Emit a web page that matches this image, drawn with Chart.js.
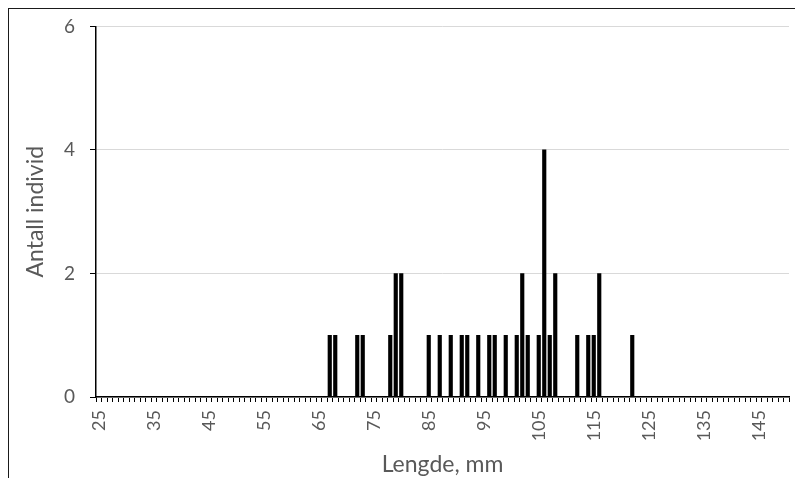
<!DOCTYPE html>
<html>
<head>
<meta charset="utf-8">
<script src="https://cdn.jsdelivr.net/npm/chart.js@4.4.0/dist/chart.umd.min.js"></script>
<style>
  html, body { margin: 0; padding: 0; background: #fff; overflow: hidden; }
  #wrap { position: relative; width: 795px; height: 478px; }
  #frame { position: absolute; left: 8px; top: 8px; width: 800px; height: 480px; border: 1.5px solid #1a1a1a; pointer-events: none; }
</style>
</head>
<body>
<div id="wrap">
  <canvas id="lengthChart" width="795" height="478"></canvas>
  <div id="frame"></div>
</div>
<script>
// Lengder (mm) på kategoriaksen
const firstLength = 25;
const lastLength = 150;

// Lengder med individer og antall per lengde
const barLengths = [67, 68, 72, 73, 78, 79, 80, 85, 87, 89, 91, 92, 94, 96, 97, 99, 101, 102, 103, 105, 106, 107, 108, 112, 114, 115, 116, 122];
const barCounts  = [1,  1,  1,  1,  1,  2,  2,  1,  1,  1,  1,  1,  1,  1,  1,  1,  1,   2,   1,   1,   4,   1,   2,   1,   1,   1,   2,   1];

// Tekster på aksene
const tickLabels = ['25', '35', '45', '55', '65', '75', '85', '95', '105', '115', '125', '135', '145'];
const yTicks = [0, 2, 4, 6];

const textColor = '#595959';
const fontFamily = 'Lato, "Liberation Sans", sans-serif';

// Bygg kategorier og verdier (0 der ingen individer)
const categories = [];
const counts = [];
for (let l = firstLength; l <= lastLength; l++) {
    categories.push(String(l));
    const i = barLengths.indexOf(l);
    counts.push(i >= 0 ? barCounts[i] : 0);
}

new Chart(document.getElementById('lengthChart').getContext('2d'), {
    type: 'bar',
    data: {
        labels: categories,
        datasets: [{
            data: counts,
            backgroundColor: '#000',
            borderWidth: 0,
            barThickness: 3.5
        }]
    },
    options: {
        responsive: false,
        animation: false,
        layout: { padding: { left: 22, top: 25, right: 6, bottom: 0 } },
        plugins: { legend: { display: false }, tooltip: { enabled: false } },
        scales: {
            x: {
                offset: true,
                grid: { display: true, drawOnChartArea: false, drawTicks: true, tickLength: 5, offset: true, tickColor: '#000', tickWidth: 1 },
                border: { color: '#000', width: 1.5 },
                ticks: {
                    autoSkip: false,
                    minRotation: 90,
                    maxRotation: 90,
                    padding: 8,
                    color: textColor,
                    font: { family: fontFamily, size: 18 },
                    callback: function (v) {
                        const l = this.getLabelForValue(v);
                        return tickLabels.includes(l) ? l : '';
                    }
                },
                title: { display: true, text: 'Lengde, mm', color: textColor, font: { family: fontFamily, size: 23 }, padding: { top: 0, bottom: 0 } },
                afterFit: s => { s.height = 81; s.paddingRight = 0; s.paddingLeft = 0; }
            },
            y: {
                min: 0,
                max: 6,
                afterBuildTicks: s => { s.ticks = yTicks.map(v => ({ value: v })); },
                grid: { color: '#d9d9d9', tickColor: '#000', tickLength: 6, drawTicks: true },
                border: { color: '#000', width: 1.5 },
                ticks: { padding: 15, color: textColor, font: { family: fontFamily, size: 19 } },
                title: { display: true, text: 'Antall individ', color: textColor, font: { family: fontFamily, size: 23 }, padding: { top: 0, bottom: 0 } },
                afterFit: s => { s.width = 74; }
            }
        }
    }
});
</script>
</body>
</html>
